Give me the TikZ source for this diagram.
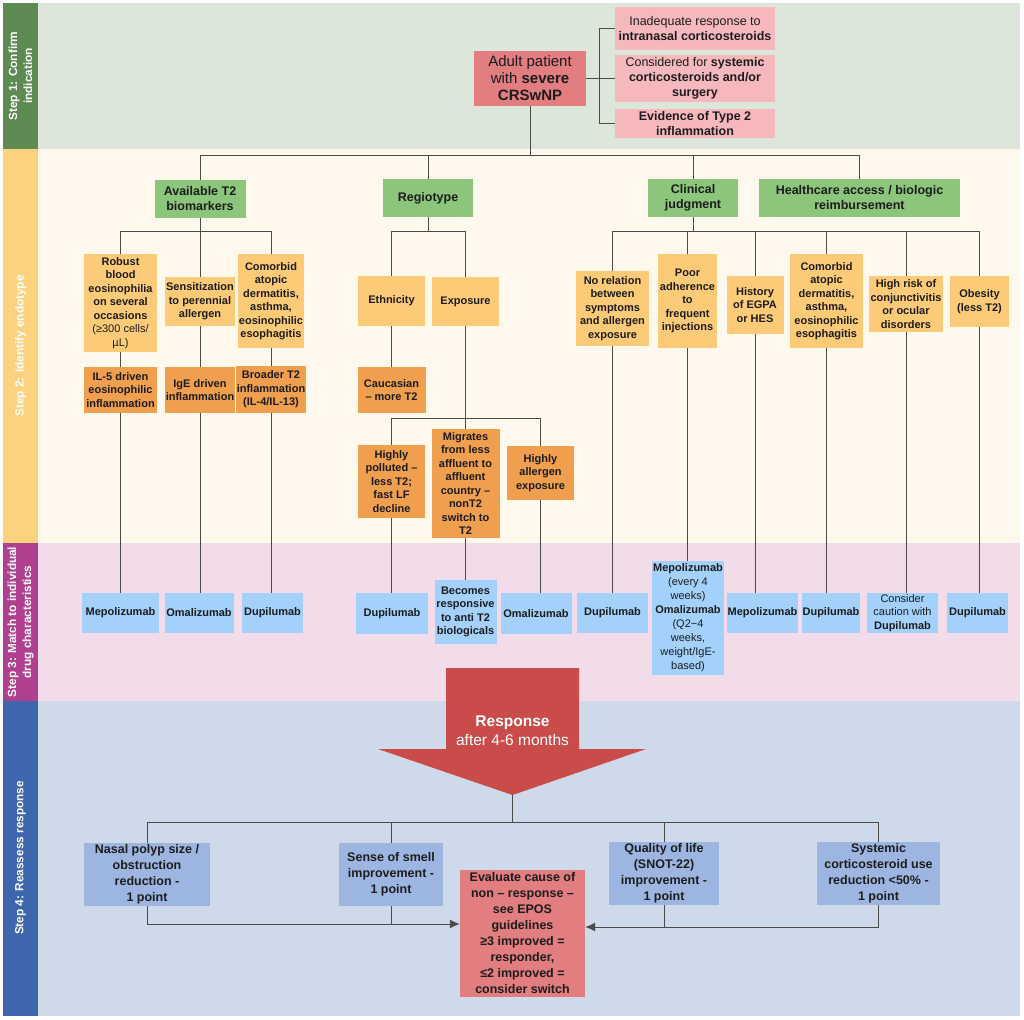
\documentclass[tikz,border=0pt]{standalone}
\usepackage{fontspec}
\setmainfont{Liberation Sans}
\usepackage{tikz}
\usetikzlibrary{positioning,arrows.meta,backgrounds}

\definecolor{sonecol}{HTML}{5C8A52}
\definecolor{sonebg}{HTML}{DDE6DA}
\definecolor{stwocol}{HTML}{FDD27E}
\definecolor{stwobg}{HTML}{FEF9EC}
\definecolor{sthreecol}{HTML}{B0408F}
\definecolor{sthreebg}{HTML}{F2DCE9}
\definecolor{sfourcol}{HTML}{3E66AD}
\definecolor{sfourbg}{HTML}{CED9EA}
\definecolor{coral}{HTML}{E27D80}
\definecolor{pinkfill}{HTML}{F7B8BD}
\definecolor{greenfill}{HTML}{8CC67C}
\definecolor{yelfill}{HTML}{FDCB78}
\definecolor{orgfill}{HTML}{EF9F4E}
\definecolor{bluefill}{HTML}{A3D1FC}
\definecolor{perifill}{HTML}{9DB6E1}
\definecolor{arrowred}{HTML}{C94C4A}
\definecolor{linegrey}{HTML}{4A4A4A}
\definecolor{txt}{HTML}{1C1C1C}

\begin{document}
\begin{tikzpicture}[x=1pt,y=-1pt,
  sz/.style 2 args={minimum width=#1pt,minimum height=#2pt},
  box/.style={inner xsep=0.5pt,inner ysep=0pt,align=center,text=txt},
  redbox/.style={box,fill=coral,font=\fontsize{15}{17}\selectfont},
  pinkbox/.style={box,fill=pinkfill,font=\fontsize{12.5}{15}\selectfont},
  greenbox/.style={box,fill=greenfill,font=\fontsize{12.5}{15}\selectfont\bfseries},
  yelbox/.style={box,fill=yelfill,font=\fontsize{11}{13.5}\selectfont\bfseries},
  orgbox/.style={box,fill=orgfill,font=\fontsize{11}{13.5}\selectfont\bfseries},
  bluebox/.style={box,fill=bluefill,font=\fontsize{11}{13.5}\selectfont\bfseries},
  outbox/.style={box,fill=perifill,font=\fontsize{12.5}{16}\selectfont\bfseries},
  steplab/.style={align=center,text=white,rotate=90,font=\fontsize{11.8}{15}\selectfont\bfseries},
  conn/.style={linegrey,line width=0.9pt},
  tipped/.style={-{Latex[length=10pt,width=9pt]}}]
\useasboundingbox (0,0) rectangle (1024,1019);
\fill[white] (0,0) rectangle (1024,1019);

% bands
\fill[sonebg] (38,3) rectangle (1020,149);
\fill[stwobg] (38,149) rectangle (1020,543);
\fill[sthreebg] (38,543) rectangle (1020,701);
\fill[sfourbg] (38,701) rectangle (1020,1016);
\fill[sonecol] (3,3) rectangle (38,149);
\fill[stwocol] (3,149) rectangle (38,543);
\fill[sthreecol] (3,543) rectangle (38,701);
\fill[sfourcol] (3,701) rectangle (38,1016);
\node[steplab] (st1) at (20.5,76) {Step 1: Confirm\\indication};
\node[steplab] (st2) at (20.5,346) {Step 2: Identify endotype};
\node[steplab] (st3) at (20.5,622) {Step 3: Match to individual\\drug characteristics};
\node[steplab] (st4) at (20.5,858) {Step 4: Reassess response};

% step 1
\node[redbox, sz={112}{55}] (adult) at (530,78.5) {Adult patient\\with \textbf{severe}\\\textbf{CRSwNP}};
\node[pinkbox, sz={160}{43}] (pk1) at (695,28.5) {Inadequate response to\\\textbf{intranasal corticosteroids}};
\node[pinkbox, sz={160}{47}] (pk2) at (695,78.5) {Considered for \textbf{systemic}\\\textbf{corticosteroids and/or}\\\textbf{surgery}};
\node[pinkbox, sz={160}{29}, font=\fontsize{12.5}{15}\selectfont\bfseries] (pk3) at (695,123.5) {Evidence of Type 2\\inflammation};
\coordinate (brk) at (599,78.5);
\path [draw, conn] (adult.east) -- (brk);
\path [draw, conn] (pk1.west) -| (brk);
\path [draw, conn] (pk2.west) -- (brk);
\path [draw, conn] (pk3.west) -| (brk);

% step 2
\node[greenbox, sz={91}{38}] (avail) at (200,199) {Available T2\\biomarkers};
\node[greenbox, sz={90}{38}] (regio) at (428,198) {Regiotype};
\node[greenbox, sz={90}{38}] (clin) at (693,198) {Clinical\\judgment};
\node[greenbox, sz={201}{38}] (health) at (859.5,198) {Healthcare access / biologic\\reimbursement};
\coordinate (r1) at (530,155);
\path [draw, conn] (adult.south) -- (r1);
\path [draw, conn] (avail.north) |- (r1);
\path [draw, conn] (regio.north) |- (r1);
\path [draw, conn] (clin.north) |- (r1);
\path [draw, conn] (health.north) |- (r1);

\node[yelbox, sz={73}{98}] (robust) at (120.5,303) {Robust\\blood\\eosinophilia\\on several\\occasions\\{\mdseries (≥300 cells/}\\{\mdseries µL)}};
\node[yelbox, sz={70}{49}] (sensit) at (200,301.5) {Sensitization\\to perennial\\allergen};
\node[yelbox, sz={66}{94}] (comorbA) at (271,301) {Comorbid\\atopic\\dermatitis,\\asthma,\\eosinophilic\\esophagitis};
\node[orgbox, sz={73}{46}] (ilfive) at (120.5,390) {IL-5 driven\\eosinophilic\\inflammation};
\node[orgbox, sz={70}{46}] (ige) at (200,390) {IgE driven\\inflammation};
\node[orgbox, sz={69}{47}] (broad) at (271,389.5) {Broader T2\\inflammation\\(IL-4/IL-13)};
\coordinate (r2) at (200,231);
\path [draw, conn] (avail.south) -- (r2);
\path [draw, conn] (robust.north) |- (r2);
\path [draw, conn] (sensit.north) -- (r2);
\path [draw, conn] (comorbA.north) |- (r2);
\path [draw, conn] (robust.south) -- (ilfive.north);
\path [draw, conn] (sensit.south) -- (ige.north);
\path [draw, conn] (comorbA.south) -- (broad.north);

\node[yelbox, sz={67}{50}] (ethn) at (391.5,301) {Ethnicity};
\node[yelbox, sz={67}{49}] (expo) at (465.5,301.5) {Exposure};
\node[orgbox, sz={68}{46}] (cauc) at (391.5,390) {Caucasian\\– more T2};
\node[orgbox, sz={67}{73}] (poll) at (391.5,481.5) {Highly\\polluted –\\less T2;\\fast LF\\decline};
\node[orgbox, sz={68}{109}] (migr) at (465.5,483.5) {Migrates\\from less\\affluent to\\affluent\\country –\\nonT2\\switch to\\T2};
\node[orgbox, sz={67}{54}] (hall) at (540.5,473) {Highly\\allergen\\exposure};
\coordinate (r3) at (428,231);
\coordinate (r4) at (465.5,418);
\path [draw, conn] (regio.south) -- (r3);
\path [draw, conn] (ethn.north) |- (r3);
\path [draw, conn] (expo.north) |- (r3);
\path [draw, conn] (ethn.south) -- (cauc.north);
\path [draw, conn] (expo.south) -- (r4);
\path [draw, conn] (poll.north) |- (r4);
\path [draw, conn] (migr.north) -- (r4);
\path [draw, conn] (hall.north) |- (r4);

\node[yelbox, sz={73}{75}] (norel) at (612.5,308.5) {No relation\\between\\symptoms\\and allergen\\exposure};
\node[yelbox, sz={59}{94}] (poor) at (687.5,301) {Poor\\adherence\\to\\frequent\\injections};
\node[yelbox, sz={57}{58}] (hist) at (755,305) {History\\of EGPA\\or HES};
\node[yelbox, sz={73}{94}] (comorbB) at (826.5,301) {Comorbid\\atopic\\dermatitis,\\asthma,\\eosinophilic\\esophagitis};
\node[yelbox, sz={74}{56}] (risk) at (906,304) {High risk of\\conjunctivitis\\or ocular\\disorders};
\node[yelbox, sz={59}{51}] (obes) at (979.5,301.5) {Obesity\\(less T2)};
\coordinate (r5) at (693,231);
\path [draw, conn] (clin.south) -- (r5);
\path [draw, conn] (norel.north) |- (r5);
\path [draw, conn] (poor.north) |- (r5);
\path [draw, conn] (hist.north) |- (r5);
\path [draw, conn] (comorbB.north) |- (r5);
\path [draw, conn] (risk.north) |- (r5);
\path [draw, conn] (obes.north) |- (r5);

% step 3
\node[bluebox, sz={77}{40}] (mepA) at (120.5,613) {Mepolizumab};
\node[bluebox, sz={69}{40}] (omaA) at (199,613) {Omalizumab};
\node[bluebox, sz={61}{40}] (dupA) at (272.5,613) {Dupilumab};
\node[bluebox, sz={72}{41}] (dupB) at (392,613.5) {Dupilumab};
\node[bluebox, sz={62}{64}] (becom) at (465.5,612) {Becomes\\responsive\\to anti T2\\biologicals};
\node[bluebox, sz={71}{41}] (omaB) at (536,613.5) {Omalizumab};
\node[bluebox, sz={71}{40}] (dupC) at (612.5,613) {Dupilumab};
\node[bluebox, sz={72}{114}, font=\fontsize{11}{14}\selectfont] (mepoma) at (688,618) {\textbf{Mepolizumab}\\(every 4\\weeks)\\\textbf{Omalizumab}\\(Q2−4\\weeks,\\weight/IgE-\\based)};
\node[bluebox, sz={71}{40}] (mepB) at (762.5,613) {Mepolizumab};
\node[bluebox, sz={58}{40}] (dupD) at (831,613) {Dupilumab};
\node[bluebox, sz={71}{40}, font=\fontsize{11}{13.5}\selectfont] (caut) at (902.5,613) {Consider\\caution with\\\textbf{Dupilumab}};
\node[bluebox, sz={61}{40}] (dupE) at (977.5,613) {Dupilumab};
\path [draw, conn] (ilfive.south) -- (ilfive.south |- mepA.north);
\path [draw, conn] (ige.south) -- (ige.south |- omaA.north);
\path [draw, conn] (broad.south) -- (broad.south |- dupA.north);
\path [draw, conn] (poll.south) -- (poll.south |- dupB.north);
\path [draw, conn] (migr.south) -- (becom.north);
\path [draw, conn] (hall.south) -- (hall.south |- omaB.north);
\path [draw, conn] (norel.south) -- (norel.south |- dupC.north);
\path [draw, conn] (poor.south) -- (poor.south |- mepoma.north);
\path [draw, conn] (hist.south) -- (hist.south |- mepB.north);
\path [draw, conn] (comorbB.south) -- (comorbB.south |- dupD.north);
\path [draw, conn] (risk.south) -- (risk.south |- caut.north);
\path [draw, conn] (obes.south) -- (obes.south |- dupE.north);

% step 4
\coordinate (tip) at (512.5,795);
\fill[arrowred] (446,668) -- (579,668) -- (579,749) -- (646,749) -- (tip) -- (378,749) -- (446,749) -- cycle;
\node[align=center, text=white, font=\fontsize{15.5}{19}\selectfont] (resp) at (512.5,731) {\textbf{Response}\\after 4-6 months};
\node[outbox, sz={126}{63}] (nasal) at (147,874.5) {Nasal polyp size /\\obstruction\\reduction -\\1 point};
\node[outbox, sz={104}{63}] (smell) at (391,874.5) {Sense of smell\\improvement -\\1 point};
\node[outbox, sz={110}{63}] (qol) at (664,873.5) {Quality of life\\(SNOT-22)\\improvement -\\1 point};
\node[outbox, sz={123}{63}] (syst) at (878.5,873.5) {Systemic\\corticosteroid use\\reduction <50\% -\\1 point};
\node[outbox, fill=coral, sz={125}{127}] (evalb) at (522.5,933.5) {Evaluate cause of\\non – response –\\see EPOS\\guidelines\\≥3 improved =\\responder,\\≤2 improved =\\consider switch};
\coordinate (r6) at (512.5,822);
\coordinate (inl) at ([yshift=9.5pt]evalb.west);
\coordinate (inr) at ([yshift=6.5pt]evalb.east);
\path [draw, conn] (tip) -- (r6);
\path [draw, conn] (nasal.north) |- (r6);
\path [draw, conn] (smell.north) |- (r6);
\path [draw, conn] (qol.north) |- (r6);
\path [draw, conn] (syst.north) |- (r6);
\path [draw, conn, tipped] (nasal.south) |- (inl);
\path [draw, conn] (smell.south) -- (smell.south |- inl);
\path [draw, conn, tipped] (syst.south) |- (inr);
\path [draw, conn] (qol.south) -- (qol.south |- inr);
\end{tikzpicture}
\end{document}
